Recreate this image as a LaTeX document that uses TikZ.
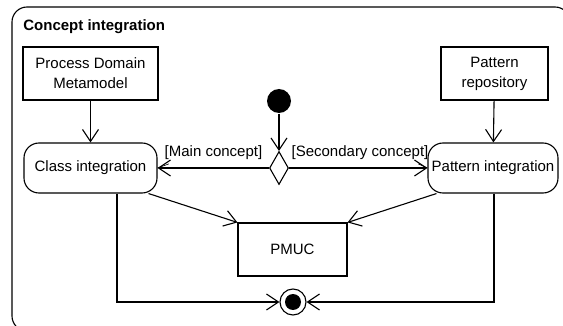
\documentclass[tikz,border=0pt]{standalone}
\usepackage{fontspec}
\setmainfont{Liberation Sans}
\usetikzlibrary{arrows.meta, shapes.geometric}

\begin{document}
\begin{tikzpicture}[x=1pt, y=-1pt, >={Straight Barb[length=12pt, width=16pt]},
  line width=1.1pt, font=\fontsize{15}{20}\selectfont,
  box/.style={draw, inner sep=0pt, align=center},
  activity/.style={draw, rounded corners=15pt, inner sep=0pt, minimum height=50pt},
  choice/.style={draw, diamond, inner sep=0pt, minimum width=19pt, minimum height=33pt}]
  \useasboundingbox (0, 0) rectangle (563, 326);
  \clip (0, 0) rectangle (563, 326);
  \draw [rounded corners=15pt] (12, 7) rectangle (570, 331);
  \node (title) [anchor=west, font=\fontsize{15}{20}\selectfont\bfseries] at (19.5, 27) {Concept integration};

  \node (proc) [box, minimum width=135pt, minimum height=53pt] at (90.5, 73.5) {Process Domain\\Metamodel};
  \node (repo) [box, minimum width=107pt, minimum height=53pt] at (494.5, 73.5) {Pattern\\repository};
  \node (class) [activity, minimum width=133pt] at (90.5, 168) {Class integration};
  \node (patint) [activity, minimum width=130pt] at (493, 168) {Pattern integration};
  \node (pmuc) [box, minimum width=109pt, minimum height=53pt] at (292.5, 249.5) {PMUC};
  \node (dec) [choice] at (279, 168) {};
  \node (init) [circle, fill, inner sep=0pt, minimum size=24pt] at (279, 101) {};
  \node (final) [circle, draw, inner sep=0pt, minimum size=26pt,
    path picture={\fill (path picture bounding box.center) circle (8pt);}] at (293, 302) {};

  \draw [->] (proc) -- (class);
  \draw [->] (repo) -- (patint);
  \draw [->] (init) -- (dec.north);
  \draw [->] (dec.west) -- (class.east);
  \draw [->] (dec.east) -- (patint.west);
  \node (mainlbl) at (213.5, 153) {[Main concept]};
  \node (seclbl) at (360, 153) {[Secondary concept]};
  \draw [line width=0.6pt] ([xshift=8pt]mainlbl.south west) -- (class.east);
  \draw [line width=0.6pt] ([xshift=-14pt]seclbl.south east) -- (patint.west);
  \draw [->] ([xshift=-9pt]class.south east) -- (pmuc.north west);
  \draw [->] ([xshift=9pt]patint.south west) -- (pmuc.north east);
  \draw [->] ([xshift=26.5pt]class.south) |- (final.west);
  \draw [->] ([xshift=1pt]patint.south) |- (final.east);
\end{tikzpicture}
\end{document}
